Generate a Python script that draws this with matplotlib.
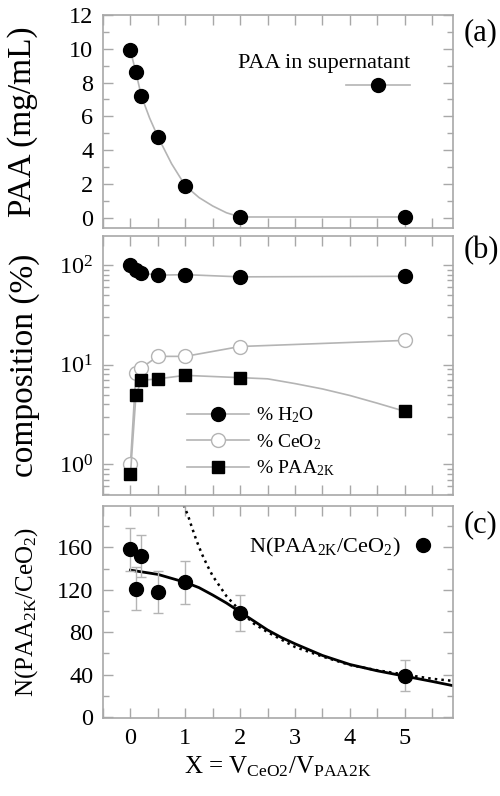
import matplotlib
matplotlib.use('Agg')
import matplotlib.pyplot as plt
from matplotlib.lines import Line2D
from matplotlib.ticker import MultipleLocator, LogLocator, NullFormatter

plt.rcParams['font.family'] = ['Liberation Serif', 'DejaVu Serif']
plt.rcParams['mathtext.fontset'] = 'custom'
plt.rcParams['mathtext.rm'] = 'Liberation Serif'
plt.rcParams['mathtext.it'] = 'Liberation Serif:italic'
plt.rcParams['mathtext.bf'] = 'Liberation Serif:bold'

# données communes
X = [0, 0.1, 0.2, 0.5, 1, 2, 5]

# (a) PAA dans le surnageant
paa_super = [9.9, 8.6, 7.2, 4.8, 1.9, 0.05, 0.05]
guide_a_x = [0, 0.1, 0.2, 0.35, 0.5, 0.75, 1, 1.25, 1.5, 1.75, 2, 5]
guide_a_y = [9.9, 8.6, 7.2, 5.9, 4.8, 3.2, 1.9, 1.2, 0.7, 0.3, 0.05, 0.05]

# (b) composition (%)
pct_h2o = [100, 89, 83, 79, 80, 76, 77]
pct_ceo2 = [1.0, 8.3, 9.3, 12.1, 12.1, 15.2, 17.5]
pct_paa = [0.79, 4.9, 6.95, 7.2, 7.8, 7.4, 3.4]
guide_paa_x = [0, 0.1, 0.2, 0.5, 1, 2, 2.5, 3, 3.5, 4, 4.5, 5]
guide_paa_y = [0.79, 4.9, 6.95, 7.2, 7.8, 7.4, 7.2, 6.45, 5.7, 4.9, 4.1, 3.4]

# (c) N(PAA2K/CeO2)
n_paa = [158, 121, 152, 118, 127, 98, 39]
n_err = [20, 20, 20, 20, 20, 17, 15]
fit_x = [0, 0.5, 1, 1.25, 1.5, 1.75, 2, 2.25, 2.5, 2.75, 3, 3.5, 4, 4.5, 5, 5.5, 5.88]
fit_solid = [138.5, 134.5, 127, 122, 115, 107.5, 99, 90.5, 82, 75, 69, 58, 49.5, 43.5, 38.5, 33.5, 29.5]
fit_dot_x = [0.97, 1.05, 1.1, 1.2, 1.3, 1.4, 1.5, 1.75, 2, 2.25, 2.5, 3, 3.5, 4, 4.5, 5, 5.5, 5.88]
fit_dot = [200, 190, 182, 167, 154, 143, 133, 114, 100, 88, 80, 66, 57, 49, 44, 40, 36, 34]

gris = '#b4b4b4'
cadre = '#a8a8a8'
fs_tick = 17.5

fig = plt.figure(figsize=(5.0, 7.96), dpi=100)
ax_a = fig.add_axes([0.206, 0.7136, 0.700, 0.2676])
ax_b = fig.add_axes([0.206, 0.378, 0.700, 0.3254])
ax_c = fig.add_axes([0.206, 0.098, 0.700, 0.2663])


def style_axes(ax):
    for sp in ax.spines.values():
        sp.set_color(cadre)
        sp.set_linewidth(1.2)
    ax.tick_params(which='both', direction='in', top=True, right=True,
                   color=cadre, labelsize=fs_tick, pad=7, width=1.0)
    ax.tick_params(which='major', length=7)
    ax.tick_params(which='minor', length=4)
    ax.tick_params(axis='x', which='minor', length=7)
    ax.set_xlim(-0.5, 5.88)
    ax.xaxis.set_major_locator(MultipleLocator(1))
    ax.xaxis.set_minor_locator(MultipleLocator(0.5))


# ---- (a)
style_axes(ax_a)
ax_a.plot(guide_a_x, guide_a_y, color=gris, lw=1.2, zorder=1)
ax_a.plot(X, paa_super, 'o', color='black', ms=10, zorder=3)
ax_a.set_ylim(-0.6, 12)
ax_a.yaxis.set_major_locator(MultipleLocator(2))
ax_a.yaxis.set_minor_locator(MultipleLocator(1))
ax_a.tick_params(labelbottom=False)
ax_a.set_ylabel('PAA (mg/mL)', fontsize=24)
ax_a.yaxis.set_label_coords(-0.185, 0.5)
proxy_a = Line2D([], [], color=gris, lw=1.2, marker='o', mfc='black', mec='black', ms=10)
ax_a.legend([proxy_a], [''], title='PAA in supernatant', title_fontsize=16,
            fontsize=16, alignment='right', loc='upper right',
            bbox_to_anchor=(0.909, 0.869), frameon=False, handlelength=2.9,
            handletextpad=0.0, labelspacing=0.2, borderpad=0.0)
ax_a.text(1.03, 0.915, '(a)', transform=ax_a.transAxes, fontsize=22, va='center')

# ---- (b)
style_axes(ax_b)
ax_b.set_yscale('log')
ax_b.plot(X, pct_h2o, '-o', color=gris, mfc='black', mec='black', ms=10, lw=1.2)
ax_b.plot(X, pct_ceo2, '-o', color=gris, mfc='white', mec=gris, ms=10, lw=1.2)
ax_b.plot(guide_paa_x, guide_paa_y, '-', color=gris, lw=1.2)
ax_b.plot(X, pct_paa, 's', color='black', ms=8)
ax_b.set_ylim(0.49, 195)
ax_b.yaxis.set_major_locator(LogLocator(base=10, numticks=10))
ax_b.yaxis.set_minor_locator(LogLocator(base=10, subs=range(2, 10), numticks=20))
ax_b.yaxis.set_minor_formatter(NullFormatter())
ax_b.tick_params(labelbottom=False)
ax_b.set_ylabel('composition (%)', fontsize=24)
ax_b.yaxis.set_label_coords(-0.18, 0.5)
handles_b = [
    Line2D([], [], color=gris, lw=1.2, marker='o', mfc='black', mec='black', ms=10),
    Line2D([], [], color=gris, lw=1.2, marker='o', mfc='white', mec=gris, ms=10),
    Line2D([], [], color=gris, lw=1.2, marker='s', mfc='black', mec='black', ms=8),
]
labels_b = ['% H$_2$O', '% CeO$_2$', '% PAA$_{\\mathrm{2K}}$']
ax_b.legend(handles_b, labels_b, loc='center left', bbox_to_anchor=(0.211, 0.205),
            frameon=False, fontsize=14, handlelength=3.2, handletextpad=0.35,
            labelspacing=0.35, borderpad=0.0)
ax_b.text(1.03, 0.946, '(b)', transform=ax_b.transAxes, fontsize=22, va='center')

# ---- (c)
style_axes(ax_c)
ax_c.plot(fit_dot_x, fit_dot, ':', color='black', lw=1.8, zorder=2)
ax_c.plot(fit_x, fit_solid, '-', color='black', lw=2.0, zorder=2)
ax_c.errorbar(X, n_paa, yerr=n_err, fmt='o', color='black', ms=10,
              ecolor=gris, elinewidth=1.0, capsize=3.5, capthick=1.0, zorder=3)
ax_c.set_ylim(-1, 199)
ax_c.yaxis.set_major_locator(MultipleLocator(40))
ax_c.yaxis.set_minor_locator(MultipleLocator(20))
ax_c.set_ylabel('N(PAA$_{\\mathrm{2K}}$/CeO$_2$)', fontsize=18)
ax_c.yaxis.set_label_coords(-0.18, 0.5)
ax_c.set_xlabel('X = V$_{\\mathrm{CeO2}}$/V$_{\\mathrm{PAA2K}}$', fontsize=18, labelpad=4)
ax_c.legend([Line2D([], [], ls='none', marker='o', color='black', ms=10)],
            ['N(PAA$_{\\mathrm{2K}}$/CeO$_2$)'],
            loc='upper right', bbox_to_anchor=(0.977, 0.91), frameon=False,
            fontsize=16, markerfirst=False, handlelength=1.0, handletextpad=0.5,
            borderpad=0.0)
ax_c.text(1.03, 0.91, '(c)', transform=ax_c.transAxes, fontsize=22, va='center')

fig.savefig('out.png', dpi=100)
